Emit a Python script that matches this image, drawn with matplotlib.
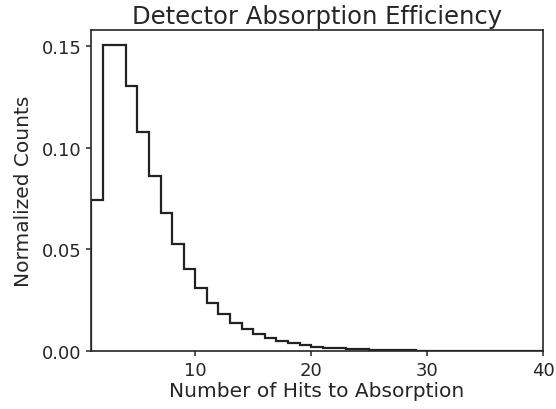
import numpy as np
import matplotlib
matplotlib.use('Agg')
import matplotlib.pyplot as plt

# bin edges 1..40, one hit per bin
edges = np.arange(1, 41)
counts = [0.0745, 0.1506, 0.1506, 0.1307, 0.1079, 0.0863, 0.0681, 0.0526, 0.0406, 0.0311,
          0.0237, 0.0180, 0.0139, 0.0107, 0.0082, 0.0063, 0.0049, 0.0038, 0.0029, 0.0022,
          0.0017, 0.0013, 0.0010, 0.0008, 0.0006, 0.00046, 0.00036, 0.00028, 0.00021, 0.00016,
          0.00012, 0.00009, 0.00007, 0.00005, 0.00004, 0.00003, 0.00002, 0.00002, 0.00001]

plt.rcParams['font.family'] = ['DejaVu Sans']
plt.rcParams['axes.edgecolor'] = '.15'
plt.rcParams['xtick.color'] = '.15'
plt.rcParams['ytick.color'] = '.15'
plt.rcParams['text.color'] = '.15'
plt.rcParams['axes.labelcolor'] = '.15'

fig = plt.figure(figsize=(5.56, 4.10), dpi=100)
ax = fig.add_axes([0.1637, 0.1415, 0.8129, 0.7829])

ax.stairs(counts, edges, color='#222222', linewidth=1.6)

ax.set_xlim(1, 40)
ax.set_ylim(0, max(counts) * 1.05)
ax.set_xticks([10, 20, 30, 40])
ax.set_yticks([0, 0.05, 0.10, 0.15])
ax.tick_params(labelsize=13, length=3.5, width=1.1)
for s in ax.spines.values():
    s.set_linewidth(1.2)

ax.set_title('Detector Absorption Efficiency', fontsize=17.5, pad=5)
ax.set_xlabel('Number of Hits to Absorption', fontsize=14.5, labelpad=2)
ax.set_ylabel('Normalized Counts', fontsize=14.5, labelpad=6)

fig.savefig('out.png', dpi=100)
